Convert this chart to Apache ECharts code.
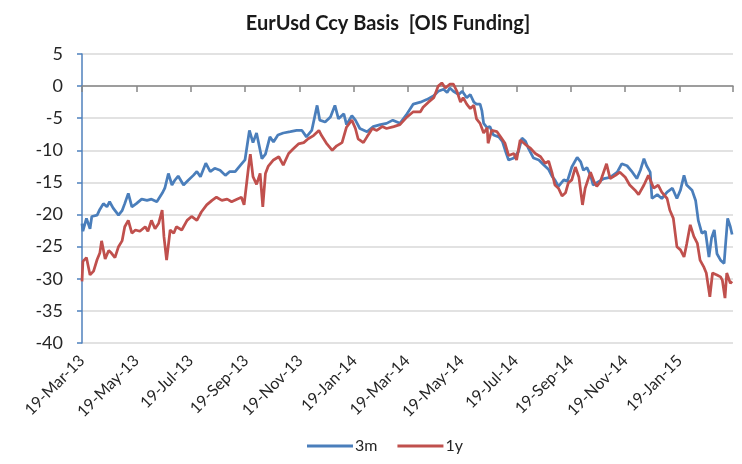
<!DOCTYPE html>
<html>
<head>
<meta charset="utf-8">
<script src="https://cdn.jsdelivr.net/npm/echarts@6/dist/echarts.min.js"></script>
<style>
html,body{margin:0;padding:0;background:#fff;}
#chart{width:742px;height:464px;}
</style>
</head>
<body>
<div id="chart"></div>
<script>
// ---- data ----
const startDate = '2013-03-19';
const endDate = '2015-03-20';
const tickDates = ['2013-03-19','2013-05-19','2013-07-19','2013-09-19','2013-11-19','2014-01-19',
                   '2014-03-19','2014-05-19','2014-07-19','2014-09-19','2014-11-19','2015-01-19'];
const tickLabels = ['19-Mar-13','19-May-13','19-Jul-13','19-Sep-13','19-Nov-13','19-Jan-14',
                    '19-Mar-14','19-May-14','19-Jul-14','19-Sep-14','19-Nov-14','19-Jan-15'];
const seriesNames = ['3m', '1y'];
const yMin = -40, yMax = 5, yStep = 5;
const tickStepDays = 61; // two-month major unit

// days since startDate
const days3m = [0,1,5,9,11,17,20,24,28,31,35,41,45,48,52,56,61,67,73,78,84,90,93,97,101,104,108,114,119,125,129,133,139,144,149,155,161,166,172,178,183,188,192,196,202,206,211,215,220,226,234,241,247,252,258,264,267,273,279,284,288,294,297,303,307,312,320,327,335,342,349,357,365,372,380,387,395,400,406,410,413,417,423,427,432,436,440,443,447,449,451,455,458,462,468,472,475,479,485,490,494,498,501,507,513,518,524,528,531,535,541,545,550,556,560,563,567,571,574,580,586,593,601,606,612,618,623,627,631,634,638,640,646,651,657,663,668,672,676,679,685,689,692,696,700,704,707,710,713,717,721,723,725,728,730];
const vals3m = [-21.4,-22.6,-20.6,-22.2,-20.3,-20.1,-19.2,-18.3,-18.8,-18.0,-19.0,-20.1,-19.4,-18.3,-16.7,-18.8,-18.3,-17.6,-17.8,-17.6,-18.0,-16.7,-15.9,-13.6,-15.4,-14.7,-14.0,-15.4,-14.7,-13.9,-13.3,-14.1,-12.0,-13.3,-12.8,-13.1,-13.9,-13.3,-13.3,-12.3,-11.5,-6.9,-8.8,-7.3,-11.3,-10.6,-7.9,-8.7,-7.6,-7.3,-7.1,-6.9,-6.9,-7.9,-6.9,-3.0,-5.3,-5.6,-4.8,-3.0,-5.1,-4.3,-6.0,-4.6,-5.3,-6.6,-7.1,-6.3,-6.0,-5.8,-5.3,-5.8,-4.3,-2.8,-2.5,-2.1,-1.5,-0.8,-0.5,-1.0,-0.3,-0.8,-1.3,-0.8,-1.8,-1.3,-2.5,-2.8,-2.8,-3.8,-5.8,-6.5,-6.3,-7.6,-7.9,-8.6,-9.9,-11.5,-11.2,-10.2,-8.1,-8.6,-9.6,-11.2,-11.5,-12.2,-13.0,-14.1,-14.6,-15.6,-14.6,-14.8,-12.6,-11.1,-11.8,-13.1,-12.7,-13.9,-15.4,-14.9,-14.4,-14.2,-13.4,-12.1,-12.4,-13.4,-14.4,-13.1,-11.3,-12.4,-13.4,-17.5,-16.9,-17.5,-16.5,-15.9,-17.5,-16.2,-13.9,-15.4,-16.2,-17.8,-20.9,-22.9,-22.6,-26.6,-23.6,-22.4,-26.1,-27.1,-27.6,-24.0,-20.6,-21.9,-23.1];

const days1y = [0,1,5,9,13,17,20,22,26,30,33,37,41,45,48,52,56,60,65,71,74,78,82,86,90,92,95,99,103,106,112,118,123,129,134,140,146,151,157,163,168,174,179,182,187,189,192,196,200,203,206,209,215,221,226,232,237,243,249,254,260,266,269,275,281,286,292,297,303,307,310,316,320,326,331,337,342,350,357,365,372,380,383,389,395,400,404,408,413,417,421,425,428,432,436,440,443,447,451,455,456,460,466,470,475,479,485,488,492,498,503,509,515,520,524,528,531,535,539,543,546,550,554,558,562,565,571,575,578,582,589,593,599,604,610,615,621,625,631,636,642,647,651,657,660,664,668,672,676,679,683,687,691,694,698,701,705,708,713,717,719,722,724,728,730];
const vals1y = [-30.4,-27.3,-26.7,-29.4,-28.8,-27.0,-26.0,-24.1,-26.9,-25.6,-26.0,-26.7,-25.0,-24.1,-21.9,-20.9,-22.9,-22.4,-22.6,-21.9,-22.6,-20.9,-22.2,-21.4,-19.3,-23.4,-27.1,-22.4,-22.9,-21.9,-22.4,-20.9,-20.3,-20.9,-19.6,-18.5,-17.8,-17.3,-17.8,-17.6,-18.0,-17.6,-17.3,-18.5,-12.6,-10.6,-14.1,-15.3,-13.6,-18.8,-13.6,-12.5,-11.5,-11.0,-12.3,-10.5,-9.8,-9.0,-8.8,-8.2,-7.7,-6.9,-7.7,-9.0,-10.0,-9.3,-8.8,-6.4,-5.3,-6.6,-8.2,-8.8,-7.9,-6.6,-6.9,-6.3,-6.6,-6.3,-6.0,-4.8,-4.0,-4.0,-3.3,-2.5,-1.8,0.0,0.5,-0.3,0.3,0.3,-0.8,-2.5,-1.8,-2.8,-3.5,-3.0,-5.1,-5.8,-7.3,-6.5,-8.9,-6.9,-7.1,-7.9,-8.9,-10.8,-10.5,-11.5,-8.4,-9.1,-9.6,-10.5,-11.0,-12.0,-11.7,-13.6,-15.4,-15.9,-17.1,-16.6,-15.1,-14.6,-12.6,-14.2,-18.5,-15.9,-13.4,-14.9,-15.6,-14.9,-12.1,-14.4,-13.9,-13.4,-14.2,-15.4,-16.2,-16.9,-15.4,-13.9,-15.9,-15.4,-16.5,-17.5,-19.3,-20.6,-25.0,-25.5,-26.6,-24.6,-21.6,-23.4,-24.5,-27.1,-28.1,-29.1,-32.8,-29.1,-29.4,-29.7,-30.2,-33.0,-29.1,-30.7,-30.4];

// ---- helpers ----
const DAY = 86400000;
function dayOf(s) { return Math.round((Date.parse(s + 'T00:00:00Z') - Date.parse(startDate + 'T00:00:00Z')) / DAY); }
const tickDays = tickDates.map(dayOf);
const maxDay = dayOf(endDate);
const pairs = (d, v) => d.map((x, i) => [x, v[i]]);

const FONT = 'Lato, "Open Sans", sans-serif';
const TXT = '#262626';
const chart = echarts.init(document.getElementById('chart'), null, { renderer: 'canvas' });
chart.setOption({
  animation: false,
  backgroundColor: '#ffffff',
  title: {
    text: 'EurUsd Ccy Basis  [OIS Funding]',
    left: 383, top: 9, textAlign: 'center',
    textStyle: { fontFamily: FONT, fontSize: 20, fontWeight: 'bold', color: '#1a1a1a' }
  },
  legend: {
    bottom: 5, left: 302,
    itemWidth: 46, itemHeight: 3, itemGap: 20,
    icon: 'rect',
    textStyle: { fontFamily: FONT, fontSize: 16, color: TXT, padding: [0, 0, 0, -3] },
    data: seriesNames
  },
  grid: { left: 82, right: 9, top: 54, bottom: 121, containLabel: false },
  xAxis: [
    {
      // axis line and major ticks sitting on the y = 0 level
      type: 'value', min: 0, max: maxDay, interval: tickStepDays,
      axisLine: { show: true, onZero: true, lineStyle: { color: '#868686', width: 1.5 } },
      axisTick: { show: true, length: 6, lineStyle: { color: '#868686', width: 1.5 } },
      axisLabel: { show: false },
      splitLine: { show: false }
    },
    {
      type: 'value', min: 0, max: maxDay, position: 'bottom',
      axisLine: { show: false, onZero: false },
      axisTick: { show: false },
      splitLine: { show: false },
      axisLabel: {
        show: true, rotate: 45, margin: 15,
        customValues: tickDays,
        fontFamily: FONT, fontSize: 16, color: TXT,
        formatter: function (v) { const i = tickDays.indexOf(Math.round(v)); return i >= 0 ? tickLabels[i] : ''; }
      }
    }
  ],
  yAxis: {
    type: 'value', min: yMin, max: yMax, interval: yStep,
    axisLine: { show: true, lineStyle: { color: '#4F81BD', width: 1.5 } },
    axisTick: { show: true, length: 5, lineStyle: { color: '#4F81BD', width: 1.5 } },
    axisLabel: { fontFamily: FONT, fontSize: 18, color: TXT, margin: 19 },
    splitLine: { show: true, lineStyle: { color: '#d9d9d9', width: 1.5 } }
  },
  series: [
    {
      name: seriesNames[0], type: 'line', xAxisIndex: 0, showSymbol: false,
      data: pairs(days3m, vals3m),
      lineStyle: { color: '#4A7EBB', width: 2.75 }, itemStyle: { color: '#4A7EBB' }
    },
    {
      name: seriesNames[1], type: 'line', xAxisIndex: 0, showSymbol: false,
      data: pairs(days1y, vals1y),
      lineStyle: { color: '#C0504D', width: 2.75 }, itemStyle: { color: '#C0504D' }
    }
  ]
});
</script>
</body>
</html>
